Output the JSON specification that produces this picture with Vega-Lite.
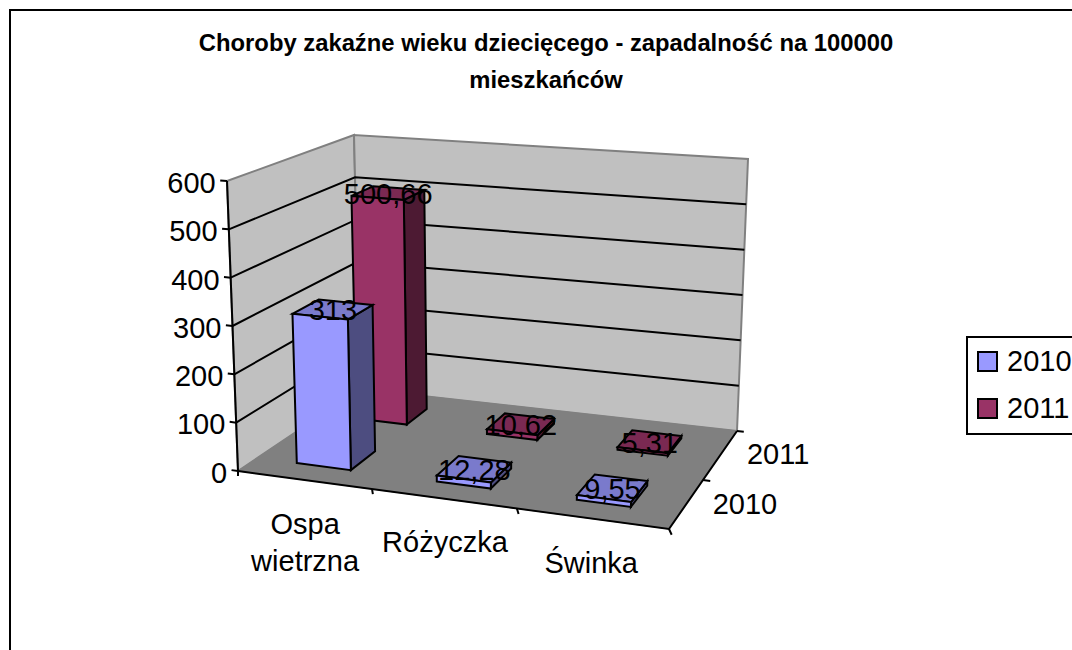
{"$schema":"https://vega.github.io/schema/vega-lite/v6.json","width":1072,"height":650,"autosize":{"type":"none"},"padding":{"left":10,"top":10,"right":0,"bottom":0},"background":"white",
"view":{"stroke":"#000000","strokeWidth":2,"fill":"white"},
"config":{"font":"Liberation Sans","legend":{"strokeWidth":2}},
"title":{"text":["Choroby zakaźne wieku dziecięcego - zapadalność na 100000","mieszkańców"],"font":"Liberation Sans","fontSize":23.8,"fontWeight":"bold","color":"#000000","lineHeight":37,"anchor":"middle","offset":-83},
"data":{"values":[
{"kind":"bar","choroba":"Ospa wietrzna","rok":"2011","wartosc":500.66},
{"kind":"bar","choroba":"Różyczka","rok":"2011","wartosc":10.62},
{"kind":"bar","choroba":"Świnka","rok":"2011","wartosc":5.31},
{"kind":"bar","choroba":"Ospa wietrzna","rok":"2010","wartosc":313},
{"kind":"bar","choroba":"Różyczka","rok":"2010","wartosc":12.28},
{"kind":"bar","choroba":"Świnka","rok":"2010","wartosc":9.55},
{"kind":"wall","id":"left","u":0,"v":0,"z":0},{"kind":"wall","id":"left","u":0,"v":1,"z":0},{"kind":"wall","id":"left","u":0,"v":1,"z":600},{"kind":"wall","id":"left","u":0,"v":0,"z":600},
{"kind":"wall","id":"back","u":0,"v":1,"z":0},{"kind":"wall","id":"back","u":1,"v":1,"z":0},{"kind":"wall","id":"back","u":1,"v":1,"z":600},{"kind":"wall","id":"back","u":0,"v":1,"z":600},
{"kind":"floor","id":"floor","u":0,"v":0,"z":0},{"kind":"floor","id":"floor","u":1,"v":0,"z":0},{"kind":"floor","id":"floor","u":1,"v":1,"z":0},{"kind":"floor","id":"floor","u":0,"v":1,"z":0},
{"kind":"grid","id":"g100","u":0,"v":0,"z":100},{"kind":"grid","id":"g100","u":0,"v":1,"z":100},{"kind":"grid","id":"g100","u":1,"v":1,"z":100},
{"kind":"grid","id":"g200","u":0,"v":0,"z":200},{"kind":"grid","id":"g200","u":0,"v":1,"z":200},{"kind":"grid","id":"g200","u":1,"v":1,"z":200},
{"kind":"grid","id":"g300","u":0,"v":0,"z":300},{"kind":"grid","id":"g300","u":0,"v":1,"z":300},{"kind":"grid","id":"g300","u":1,"v":1,"z":300},
{"kind":"grid","id":"g400","u":0,"v":0,"z":400},{"kind":"grid","id":"g400","u":0,"v":1,"z":400},{"kind":"grid","id":"g400","u":1,"v":1,"z":400},
{"kind":"grid","id":"g500","u":0,"v":0,"z":500},{"kind":"grid","id":"g500","u":0,"v":1,"z":500},{"kind":"grid","id":"g500","u":1,"v":1,"z":500},
{"kind":"grid","id":"axz","u":0,"v":0,"z":0},{"kind":"grid","id":"axz","u":0,"v":0,"z":600},
{"kind":"grid","id":"axu","u":0,"v":0,"z":0},{"kind":"grid","id":"axu","u":1,"v":0,"z":0},{"kind":"grid","id":"axu","u":1,"v":1,"z":0},
{"kind":"grid","id":"t0","u":-0.015,"v":0,"z":0},{"kind":"grid","id":"t0","u":0,"v":0,"z":0},
{"kind":"grid","id":"t100","u":-0.015,"v":0,"z":100},{"kind":"grid","id":"t100","u":0,"v":0,"z":100},
{"kind":"grid","id":"t200","u":-0.015,"v":0,"z":200},{"kind":"grid","id":"t200","u":0,"v":0,"z":200},
{"kind":"grid","id":"t300","u":-0.015,"v":0,"z":300},{"kind":"grid","id":"t300","u":0,"v":0,"z":300},
{"kind":"grid","id":"t400","u":-0.015,"v":0,"z":400},{"kind":"grid","id":"t400","u":0,"v":0,"z":400},
{"kind":"grid","id":"t500","u":-0.015,"v":0,"z":500},{"kind":"grid","id":"t500","u":0,"v":0,"z":500},
{"kind":"grid","id":"t600","u":-0.015,"v":0,"z":600},{"kind":"grid","id":"t600","u":0,"v":0,"z":600},
{"kind":"grid","id":"c0","u":0,"v":0,"z":0},{"kind":"grid","id":"c0","u":0.014,"v":-0.05,"z":0},
{"kind":"grid","id":"c1","u":0.311,"v":0,"z":0},{"kind":"grid","id":"c1","u":0.325,"v":-0.05,"z":0},
{"kind":"grid","id":"c2","u":0.647,"v":0,"z":0},{"kind":"grid","id":"c2","u":0.661,"v":-0.05,"z":0},
{"kind":"grid","id":"c3","u":1,"v":0,"z":0},{"kind":"grid","id":"c3","u":1.014,"v":-0.05,"z":0},
{"kind":"grid","id":"d0","u":1,"v":0.5,"z":0},{"kind":"grid","id":"d0","u":1.018,"v":0.5,"z":0},
{"kind":"grid","id":"d1","u":1,"v":1,"z":0},{"kind":"grid","id":"d1","u":1.018,"v":1,"z":0},
{"kind":"ylab","label":"0","u":-0.025,"v":0,"z":0},{"kind":"ylab","label":"100","u":-0.025,"v":0,"z":100},{"kind":"ylab","label":"200","u":-0.025,"v":0,"z":200},{"kind":"ylab","label":"300","u":-0.025,"v":0,"z":300},{"kind":"ylab","label":"400","u":-0.025,"v":0,"z":400},{"kind":"ylab","label":"500","u":-0.025,"v":0,"z":500},{"kind":"ylab","label":"600","u":-0.025,"v":0,"z":600},
{"kind":"clab","label":"Ospa\nwietrzna","u":0.268,"v":-0.45,"z":0},{"kind":"clab","label":"Różyczka","u":0.571,"v":-0.43,"z":0},{"kind":"clab","label":"Świnka","u":0.893,"v":-0.43,"z":0},
{"kind":"clab","label":"2010","u":1.131,"v":0.32,"z":0},{"kind":"clab","label":"2011","u":1.138,"v":0.82,"z":0}
]},
"transform":[
{"calculate":"datum.kind=='bar' ? 0.157+0.3315*indexof(['Ospa wietrzna','Różyczka','Świnka'],datum.choroba)-(datum.rok=='2011'?0.006:0) : 0","as":"uc"},
{"calculate":"datum.rok=='2010' ? 0.27 : 0.78","as":"vc"},
{"calculate":"datum.rok=='2010' ? 0.11 : 0.09","as":"hv"},
{"calculate":"datum.uc-0.064","as":"u0"},{"calculate":"datum.uc+0.064","as":"u1"},
{"calculate":"datum.vc-datum.hv","as":"v0"},{"calculate":"datum.vc+datum.hv","as":"v1"},
{"calculate":"datum.wartosc","as":"h"},
{"calculate":"datum.kind=='bar' ? [{f:'side',u:datum.u1,v:datum.v0,z:0},{f:'side',u:datum.u1,v:datum.v1,z:0},{f:'side',u:datum.u1,v:datum.v1,z:datum.h},{f:'side',u:datum.u1,v:datum.v0,z:datum.h},{f:'top',u:datum.u0,v:datum.v0,z:datum.h},{f:'top',u:datum.u1,v:datum.v0,z:datum.h},{f:'top',u:datum.u1,v:datum.v1,z:datum.h},{f:'top',u:datum.u0,v:datum.v1,z:datum.h},{f:'front',u:datum.u0,v:datum.v0,z:0},{f:'front',u:datum.u1,v:datum.v0,z:0},{f:'front',u:datum.u1,v:datum.v0,z:datum.h},{f:'front',u:datum.u0,v:datum.v0,z:datum.h},{f:'label',u:datum.uc,v:datum.vc,z:datum.h}] : [{f:datum.kind,u:datum.u,v:datum.v,z:datum.z}]","as":"c"},
{"flatten":["c"]},
{"calculate":"datum.c.u","as":"a"},{"calculate":"datum.c.v","as":"b"},{"calculate":"datum.c.z/600","as":"w"},{"calculate":"datum.c.f","as":"face"},
{"calculate":"(1-datum.b)*((1-datum.a)*238+datum.a*669)+datum.b*((1-datum.a)*360+datum.a*737)","as":"xb"},
{"calculate":"(1-datum.b)*((1-datum.a)*227+datum.a*679)+datum.b*((1-datum.a)*354+datum.a*748)","as":"xt"},
{"calculate":"(1-datum.b)*((1-datum.a)*471+datum.a*529)+datum.b*((1-datum.a)*389+datum.a*431)","as":"yb"},
{"calculate":"(1-datum.b)*((1-datum.a)*181+datum.a*219)+datum.b*((1-datum.a)*135+datum.a*159)","as":"yt"},
{"calculate":"datum.xb+datum.w*(datum.xt-datum.xb)","as":"px"},
{"calculate":"datum.yb+datum.w*(datum.yt-datum.yb)","as":"py"},
{"calculate":"datum.kind=='bar' ? datum.choroba+datum.rok+datum.face : datum.id","as":"gid"},
{"calculate":"datum.rok+datum.face","as":"shade"},
{"calculate":"datum.kind=='bar' ? replace(''+datum.wartosc,'.',',') : datum.label","as":"txt"}
],
"encoding":{
"x":{"field":"px","type":"quantitative","scale":{"domain":[10,1082],"zero":false,"nice":false},"axis":null},
"y":{"field":"py","type":"quantitative","scale":{"domain":[10,660],"reverse":true,"zero":false,"nice":false},"axis":null}
},
"layer":[
{"transform":[{"filter":"datum.kind=='wall'"}],"mark":{"type":"line","interpolate":"linear-closed","fill":"#C0C0C0","stroke":"#808080","strokeWidth":2},"encoding":{"detail":{"field":"gid"},"order":{"value":null}}},
{"transform":[{"filter":"datum.kind=='floor'"}],"mark":{"type":"line","interpolate":"linear-closed","fill":"#808080","stroke":"#808080","strokeWidth":1},"encoding":{"detail":{"field":"gid"},"order":{"value":null}}},
{"transform":[{"filter":"datum.kind=='grid'"}],"mark":{"type":"line","stroke":"#000000","strokeWidth":2},"encoding":{"detail":{"field":"gid"},"order":{"value":null}}},
{"transform":[{"filter":"datum.kind=='bar' && datum.face!='label'"}],"mark":{"type":"line","interpolate":"linear-closed","stroke":"#000000","strokeWidth":2},"encoding":{"detail":{"field":"gid"},"order":{"value":null},"fill":{"field":"shade","type":"nominal","legend":null,"scale":{"domain":["2010front","2010side","2010top","2011front","2011side","2011top"],"range":["#9999FF","#4D4D80","#7A7ACC","#993366","#4D1A33","#7A2952"]}}}},
{"transform":[{"filter":"datum.kind=='bar' && datum.face=='label'"}],"mark":{"type":"point","filled":true,"size":0,"opacity":1},"encoding":{"color":{"field":"rok","type":"nominal","scale":{"domain":["2010","2011"],"range":["#9999FF","#993366"]},"legend":{"title":null,"orient":"none","legendX":957,"legendY":327,"symbolType":"square","symbolSize":361,"symbolOffset":-4,"symbolStrokeColor":"#000000","symbolStrokeWidth":2,"symbolOpacity":1,"labelFontSize":29,"labelFont":"Liberation Sans","labelColor":"#000000","labelOffset":5,"rowPadding":17,"padding":10,"strokeColor":"#000000","fillColor":"#FFFFFF"}}}},
{"transform":[{"filter":"datum.kind=='bar' && datum.face=='label'"}],"mark":{"type":"text","fontSize":29,"font":"Liberation Sans","color":"#000000","align":"center","baseline":"middle","dy":2},"encoding":{"text":{"field":"txt"}}},
{"transform":[{"filter":"datum.kind=='ylab'"}],"mark":{"type":"text","fontSize":29,"font":"Liberation Sans","color":"#000000","align":"right","baseline":"middle","dy":4},"encoding":{"text":{"field":"txt"}}},
{"transform":[{"filter":"datum.kind=='clab'"}],"mark":{"type":"text","fontSize":29,"font":"Liberation Sans","color":"#000000","align":"center","baseline":"middle","lineBreak":"\n","lineHeight":37},"encoding":{"text":{"field":"txt"}}}
]}
